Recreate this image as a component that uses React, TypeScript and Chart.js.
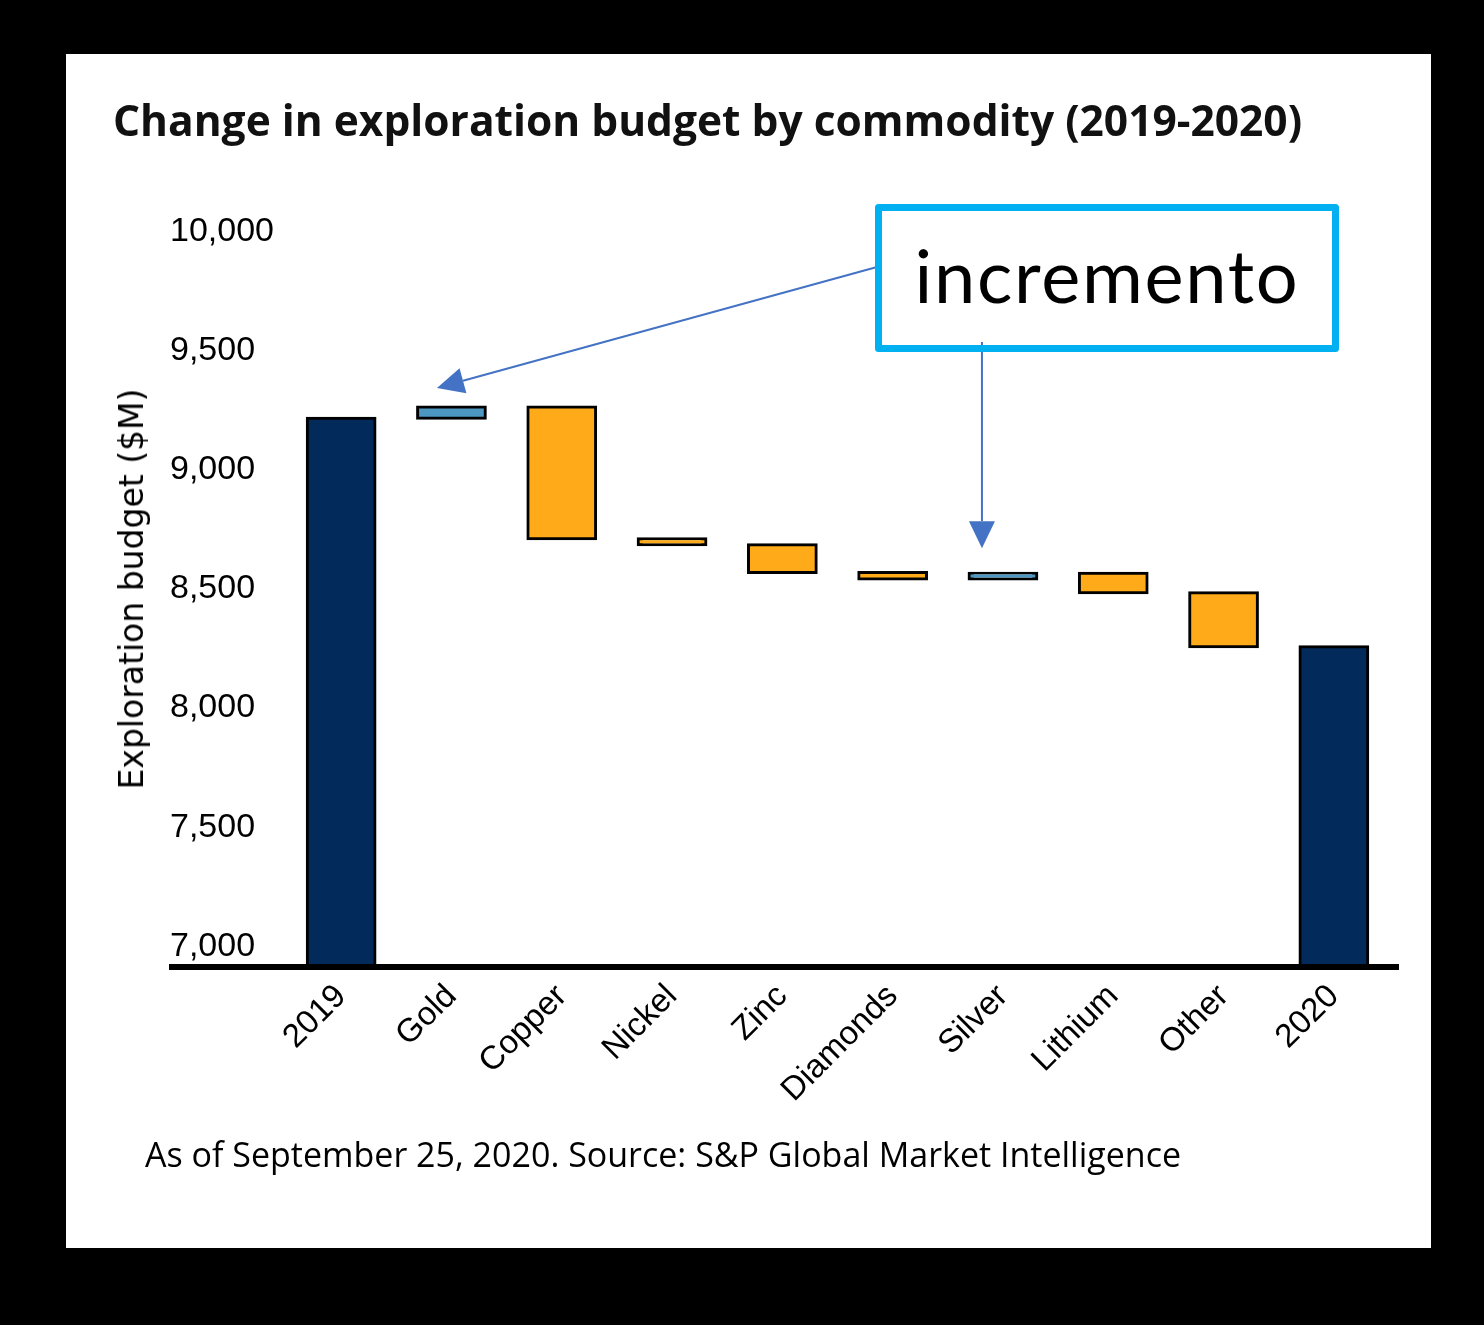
import React, { useEffect, useRef } from "react";
import Chart from "chart.js/auto";

const categories = ["2019", "Gold", "Copper", "Nickel", "Zinc", "Diamonds", "Silver", "Lithium", "Other", "2020"];
// exploration budget totals, $M
const total2019 = 9204;
const total2020 = 8245;
// each commodity step: level before and level after the change, $M
const stepFrom = [9204, 9252, 8698, 8673, 8557, 8529, 8554, 8472];
const stepTo = [9252, 8698, 8673, 8557, 8529, 8554, 8472, 8245];
const yTicks = [7000, 7500, 8000, 8500, 9000, 9500, 10000];

const NAVY = "#022B5C";
const ORANGE = "#FFAB19";
const BLUE = "#4C98C2";
const ARROW = "#4472C4";

const drawArrow = (ctx: CanvasRenderingContext2D, x1: number, y1: number, x2: number, y2: number) => {
  const ang = Math.atan2(y2 - y1, x2 - x1);
  const len = 27;
  const half = 13;
  const bx = x2 - len * Math.cos(ang);
  const by = y2 - len * Math.sin(ang);
  ctx.strokeStyle = ARROW;
  ctx.fillStyle = ARROW;
  ctx.lineWidth = 2;
  ctx.beginPath();
  ctx.moveTo(x1, y1);
  ctx.lineTo(bx, by);
  ctx.stroke();
  ctx.beginPath();
  ctx.moveTo(x2, y2);
  ctx.lineTo(bx + half * Math.sin(ang), by - half * Math.cos(ang));
  ctx.lineTo(bx - half * Math.sin(ang), by + half * Math.cos(ang));
  ctx.closePath();
  ctx.fill();
};

const decor = {
  id: "decor",
  afterDatasetsDraw(chart: any) {
    const { ctx, chartArea, scales } = chart;
    const x = scales.x;
    const y = scales.y;
    ctx.save();

    // baseline, runs under the tick labels too
    ctx.strokeStyle = "#000";
    ctx.lineWidth = 6;
    ctx.beginPath();
    ctx.moveTo(103, chartArea.bottom);
    ctx.lineTo(1333, chartArea.bottom);
    ctx.stroke();

    // arrows to Gold and Silver
    const goldX = x.getPixelForValue(1) - 14.5;
    const goldY = y.getPixelForValue(stepTo[0]) - 19;
    drawArrow(ctx, 811, 213, goldX, goldY);
    const silverX = x.getPixelForValue(6) - 21;
    const silverY = y.getPixelForValue(stepTo[5]) - 25;
    drawArrow(ctx, silverX, 288, silverX, silverY);

    // callout box
    ctx.strokeStyle = "#00B0F0";
    ctx.lineWidth = 7;
    ctx.lineJoin = "round";
    ctx.strokeRect(812.5, 153.5, 457, 141);
    ctx.fillStyle = "#000";
    ctx.font = "74px Lato";
    (ctx as any).letterSpacing = "1.7px";
    ctx.textAlign = "center";
    ctx.textBaseline = "alphabetic";
    ctx.fillText("incremento", 1041, 249);
    ctx.restore();
  },
};

const WaterfallChart = () => {
  const chartRef = useRef<HTMLCanvasElement | null>(null);

  useEffect(() => {
    if (!chartRef.current) return;
    const ctx = chartRef.current.getContext("2d");
    if (!ctx) return;

    const data: any[] = [total2019, ...stepFrom.map((f, i) => [f, stepTo[i]]), total2020];
    const colors = data.map((d, i) => {
      if (i === 0 || i === data.length - 1) return NAVY;
      return d[1] > d[0] ? BLUE : ORANGE;
    });

    const chart = new Chart(ctx, {
      type: "bar",
      data: {
        labels: categories,
        datasets: [
          {
            data,
            backgroundColor: colors,
            borderColor: "#000",
            borderWidth: 3,
            borderSkipped: false,
            inflateAmount: 1.5,
            categoryPercentage: 1,
            barPercentage: 0.614,
          },
        ],
      },
      options: {
        animation: false,
        responsive: true,
        maintainAspectRatio: false,
        layout: { padding: { left: 104, top: 151, right: 42, bottom: 81 } },
        plugins: { legend: { display: false }, tooltip: { enabled: false } },
        scales: {
          x: {
            grid: { display: false, drawTicks: false },
            border: { display: false },
            ticks: {
              color: "#000",
              font: { family: "Liberation Sans", size: 33 },
              minRotation: 45,
              maxRotation: 45,
              padding: 10,
            },
            afterFit: (s: any) => {
              s.height = 200;
            },
          },
          y: {
            min: 6900,
            max: 10100,
            grid: { display: false, drawTicks: false },
            border: { display: false },
            afterBuildTicks: (s: any) => {
              s.ticks = yTicks.map((v) => ({ value: v }));
            },
            ticks: {
              color: "#000",
              crossAlign: "far",
              labelOffset: 3,
              font: { family: "Liberation Sans", size: 34 },
              callback: (v: any) => Number(v).toLocaleString("en-US"),
            },
            afterFit: (s: any) => {
              s.width = 116;
            },
          },
        },
      },
      plugins: [decor],
    });

    return () => {
      chart.destroy();
    };
  }, []);

  return <canvas ref={chartRef} />;
};

export default function App() {
  return (
    <div style={{ position: "absolute", left: 0, top: 0, width: 1484, height: 1325, background: "#000", overflow: "hidden" }}>
      <div style={{ position: "absolute", left: 66, top: 54, width: 1365, height: 1194, background: "#fff" }}>
        <WaterfallChart />
      </div>
      <div
        style={{
          position: "absolute",
          left: 113,
          top: 95,
          fontFamily: "Open Sans",
          fontWeight: 700,
          fontSize: 42.5,
          lineHeight: "50px",
          color: "#111",
          whiteSpace: "nowrap",
        }}
      >
        Change in exploration budget by commodity (2019-2020)
      </div>
      <div
        style={{
          position: "absolute",
          left: 132,
          top: 589,
          transform: "translate(-50%, -50%) rotate(-90deg)",
          fontFamily: "DejaVu Sans",
          fontSize: 33,
          lineHeight: "40px",
          color: "#000",
          whiteSpace: "nowrap",
        }}
      >
        Exploration budget ($M)
      </div>
      <div
        style={{
          position: "absolute",
          left: 145,
          top: 1133,
          fontFamily: "Open Sans",
          fontSize: 34,
          lineHeight: "42px",
          color: "#000",
          whiteSpace: "nowrap",
        }}
      >
        As of September 25, 2020. Source: S&amp;P Global Market Intelligence
      </div>
    </div>
  );
}
